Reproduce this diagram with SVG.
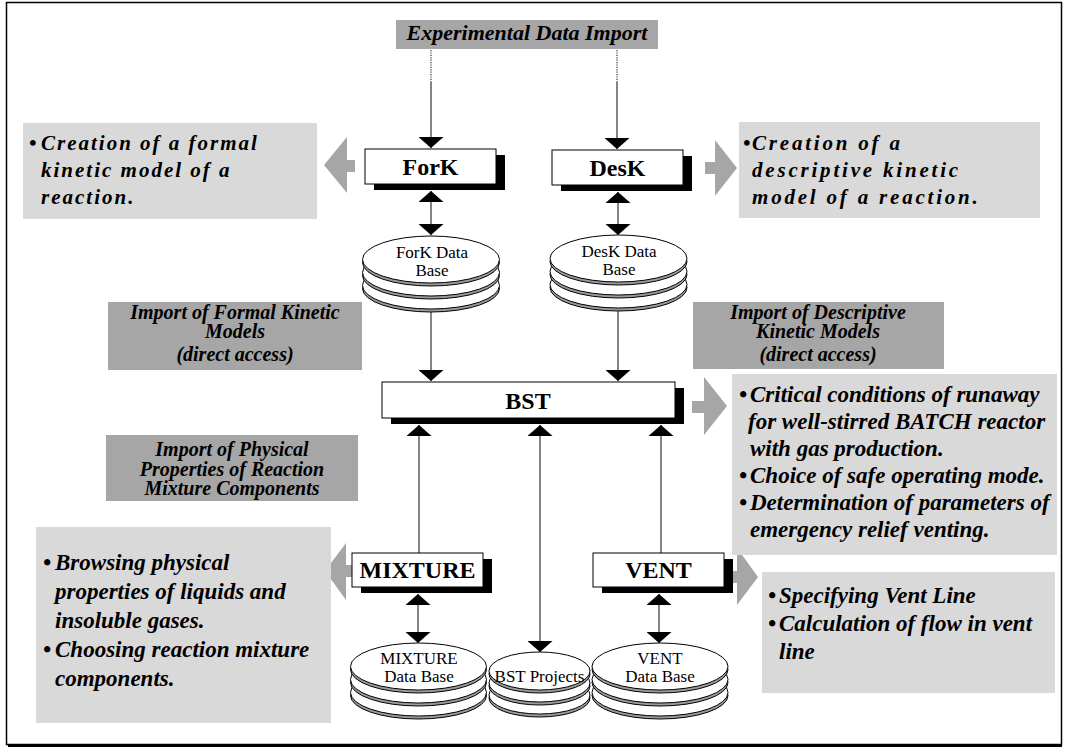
<svg xmlns="http://www.w3.org/2000/svg" width="1066" height="748" viewBox="0 0 1066 748">
<defs>
<style>
.frame{fill:none;stroke:#000;stroke-width:1.5}
.lt{fill:#d9d9d9}
.dk{fill:#a6a6a6}
.ga{fill:#a6a6a6}
.box{fill:#fff;stroke:#000;stroke-width:1}
.sh{fill:#000}
.rim{fill:#9a9a9a;stroke:#000;stroke-width:1}
.top{fill:#fff;stroke:#000;stroke-width:1}
.con{stroke:#333;stroke-width:1.2;fill:none}
.dot{stroke:#333;stroke-width:1.2;stroke-dasharray:1.2 1.2;fill:none}
text{font-family:"Liberation Serif","Times New Roman",serif;fill:#000}
.bi{font-weight:bold;font-style:italic}
.t21{font-size:21px}
.t23{font-size:23px}
.imp{font-size:20px;text-anchor:middle}
.lbl{font-weight:bold;font-size:24px;text-anchor:middle}
.db{font-size:17px;text-anchor:middle}
</style>
<marker id="ah" viewBox="0 0 11 25" refX="11" refY="12.5" markerWidth="11" markerHeight="25" markerUnits="userSpaceOnUse" orient="auto-start-reverse">
<path d="M0,0 L11,12.5 L0,25 Z" fill="#000"/>
</marker>
</defs>
<rect width="1066" height="748" fill="#fff"/>
<rect class="frame" x="6.5" y="2.5" width="1055" height="742"/>
<line x1="8" y1="746" x2="1062" y2="746" stroke="#000" stroke-width="2"/>

<!-- gray block arrows -->
<g id="block-arrows">
<polygon class="ga" points="324,165 347,137 347,160 355,160 355,172 347,172 347,193"/>
<polygon class="ga" points="705,162 715,162 715,140 737,168 715,196 715,174 705,174"/>
<polygon class="ga" points="692,401 704,401 704,377 727,406 704,435 704,413 692,413"/>
<polygon class="ga" points="325,571 346,543 346,565 352,565 352,577 346,577 346,600"/>
<polygon class="ga" points="727,571 737,571 737,548 758,577 737,605 737,583 727,583"/>
</g>

<!-- Experimental Data Import -->
<g id="exp-import">
<rect class="dk" x="396" y="20" width="262" height="29"/>
<text class="bi" x="527" y="40" font-size="22" text-anchor="middle">Experimental Data Import</text>
</g>

<!-- text panels -->
<g id="fork-desc">
<rect class="lt" x="23" y="123" width="294" height="96"/>
<text class="bi t21" letter-spacing="2"><tspan x="29" y="150">•</tspan><tspan x="41" y="150">Creation of a formal</tspan><tspan x="41" y="177">kinetic model of a</tspan><tspan x="41" y="204">reaction.</tspan></text>
</g>
<g id="desk-desc">
<rect class="lt" x="739" y="122" width="301" height="96"/>
<text class="bi t21" letter-spacing="2.8"><tspan x="743" y="150">•</tspan><tspan x="752" y="150">Creation of a</tspan><tspan x="752" y="177">descriptive kinetic</tspan><tspan x="752" y="204">model of a reaction.</tspan></text>
</g>
<g id="import-formal">
<rect class="dk" x="108" y="302" width="254" height="68"/>
<text class="bi imp"><tspan x="235" y="319">Import of Formal Kinetic</tspan><tspan x="235" y="338">Models</tspan><tspan x="235" y="361">(direct access)</tspan></text>
</g>
<g id="import-desc">
<rect class="dk" x="693" y="302" width="251" height="67"/>
<text class="bi imp"><tspan x="818" y="319">Import of Descriptive</tspan><tspan x="818" y="338">Kinetic Models</tspan><tspan x="818" y="361">(direct access)</tspan></text>
</g>
<g id="import-phys">
<rect class="dk" x="106" y="435" width="252" height="66"/>
<text class="bi imp"><tspan x="232" y="456">Import of Physical</tspan><tspan x="232" y="476">Properties of Reaction</tspan><tspan x="232" y="495">Mixture Components</tspan></text>
</g>
<g id="bst-desc">
<rect class="lt" x="732" y="374" width="325" height="181"/>
<text class="bi t23"><tspan x="739" y="402">•</tspan><tspan x="750" y="402">Critical conditions of runaway</tspan><tspan x="748" y="429">for well-stirred BATCH reactor</tspan><tspan x="750" y="456">with gas production.</tspan><tspan x="739" y="483">•</tspan><tspan x="750" y="483">Choice of safe operating mode.</tspan><tspan x="739" y="510">•</tspan><tspan x="750" y="510">Determination of parameters of</tspan><tspan x="750" y="537">emergency relief venting.</tspan></text>
</g>
<g id="mixture-desc">
<rect class="lt" x="36" y="527" width="295" height="196"/>
<text class="bi t23"><tspan x="43" y="570">•</tspan><tspan x="55" y="570">Browsing physical</tspan><tspan x="55" y="599">properties of liquids and</tspan><tspan x="55" y="628">insoluble gases.</tspan><tspan x="43" y="657">•</tspan><tspan x="55" y="657">Choosing reaction mixture</tspan><tspan x="55" y="686">components.</tspan></text>
</g>
<g id="vent-desc">
<rect class="lt" x="762" y="572" width="293" height="121"/>
<text class="bi t23"><tspan x="768" y="603">•</tspan><tspan x="779" y="603">Specifying Vent Line</tspan><tspan x="768" y="631">•</tspan><tspan x="779" y="631">Calculation of flow in vent</tspan><tspan x="779" y="659">line</tspan></text>
</g>

<!-- connectors -->
<g id="connectors">
<line class="dot" x1="431" y1="50" x2="431" y2="82"/>
<line class="con" x1="431" y1="82" x2="431" y2="148" marker-end="url(#ah)"/>
<line class="dot" x1="617" y1="50" x2="617" y2="82"/>
<line class="con" x1="617" y1="82" x2="617" y2="149" marker-end="url(#ah)"/>
<line class="con" x1="431" y1="191" x2="431" y2="235" marker-start="url(#ah)" marker-end="url(#ah)"/>
<line class="con" x1="618" y1="192" x2="618" y2="235" marker-start="url(#ah)" marker-end="url(#ah)"/>
<line class="con" x1="431" y1="312" x2="431" y2="381" marker-end="url(#ah)"/>
<line class="con" x1="618" y1="311" x2="618" y2="381" marker-end="url(#ah)"/>
<line class="con" x1="419" y1="553" x2="419" y2="425" marker-end="url(#ah)"/>
<line class="con" x1="540" y1="425" x2="540" y2="652" marker-start="url(#ah)" marker-end="url(#ah)"/>
<line class="con" x1="661" y1="553" x2="661" y2="425" marker-end="url(#ah)"/>
<line class="con" x1="418" y1="594" x2="418" y2="643" marker-start="url(#ah)" marker-end="url(#ah)"/>
<line class="con" x1="659" y1="594" x2="659" y2="643" marker-start="url(#ah)" marker-end="url(#ah)"/>
</g>

<!-- program nodes -->
<g id="fork">
<rect class="sh" x="374" y="155" width="131" height="35"/>
<rect class="box" x="365" y="149" width="131" height="35"/>
<text class="lbl" x="430.5" y="175">ForK</text>
</g>
<g id="desk">
<rect class="sh" x="561" y="156" width="131" height="35"/>
<rect class="box" x="552" y="150" width="131" height="35"/>
<text class="lbl" x="617.5" y="176">DesK</text>
</g>
<g id="bst">
<rect class="sh" x="391" y="388" width="293" height="36"/>
<rect class="box" x="382" y="382" width="293" height="36"/>
<text class="lbl" x="528" y="409">BST</text>
</g>
<g id="mixture">
<rect class="sh" x="361" y="559" width="131" height="34"/>
<rect class="box" x="352" y="553" width="131" height="34"/>
<text class="lbl" x="417.5" y="578" font-size="23">MIXTURE</text>
</g>
<g id="vent">
<rect class="sh" x="602" y="559" width="131" height="34"/>
<rect class="box" x="593" y="553" width="131" height="34"/>
<text class="lbl" x="658.5" y="578" font-size="23">VENT</text>
</g>

<!-- databases -->
<g id="fork-db">
<ellipse class="rim" cx="431" cy="288.5" rx="68.5" ry="23.5"/><ellipse class="top" cx="431" cy="285.5" rx="68.5" ry="23.5"/>
<ellipse class="rim" cx="431" cy="275.5" rx="68.5" ry="23.5"/><ellipse class="top" cx="431" cy="272.5" rx="68.5" ry="23.5"/>
<ellipse class="rim" cx="431" cy="262.5" rx="68.5" ry="23.5"/><ellipse class="top" cx="431" cy="259.5" rx="68.5" ry="23.5"/>
<text class="db"><tspan x="432" y="258">ForK Data</tspan><tspan x="432" y="276">Base</tspan></text>
</g>
<g id="desk-db">
<ellipse class="rim" cx="618.5" cy="287.5" rx="68.5" ry="23.5"/><ellipse class="top" cx="618.5" cy="284.5" rx="68.5" ry="23.5"/>
<ellipse class="rim" cx="618.5" cy="274.5" rx="68.5" ry="23.5"/><ellipse class="top" cx="618.5" cy="271.5" rx="68.5" ry="23.5"/>
<ellipse class="rim" cx="618.5" cy="261.5" rx="68.5" ry="23.5"/><ellipse class="top" cx="618.5" cy="258.5" rx="68.5" ry="23.5"/>
<text class="db"><tspan x="619" y="257">DesK Data</tspan><tspan x="619" y="275">Base</tspan></text>
</g>
<g id="mixture-db">
<ellipse class="rim" cx="418.5" cy="695.5" rx="68" ry="23.5"/><ellipse class="top" cx="418.5" cy="692.5" rx="68" ry="23.5"/>
<ellipse class="rim" cx="418.5" cy="682.5" rx="68" ry="23.5"/><ellipse class="top" cx="418.5" cy="679.5" rx="68" ry="23.5"/>
<ellipse class="rim" cx="418.5" cy="669.5" rx="68" ry="23.5"/><ellipse class="top" cx="418.5" cy="666.5" rx="68" ry="23.5"/>
<text class="db"><tspan x="419" y="664">MIXTURE</tspan><tspan x="419" y="682">Data Base</tspan></text>
</g>
<g id="bst-projects">
<ellipse class="rim" cx="539.5" cy="698" rx="50.5" ry="19"/><ellipse class="top" cx="539.5" cy="695" rx="50.5" ry="19"/>
<ellipse class="rim" cx="539.5" cy="686" rx="50.5" ry="19"/><ellipse class="top" cx="539.5" cy="683" rx="50.5" ry="19"/>
<ellipse class="rim" cx="539.5" cy="674" rx="50.5" ry="19"/><ellipse class="top" cx="539.5" cy="671" rx="50.5" ry="19"/>
<text class="db" x="539.5" y="682">BST Projects</text>
</g>
<g id="vent-db">
<ellipse class="rim" cx="660" cy="695.5" rx="68" ry="23.5"/><ellipse class="top" cx="660" cy="692.5" rx="68" ry="23.5"/>
<ellipse class="rim" cx="660" cy="682.5" rx="68" ry="23.5"/><ellipse class="top" cx="660" cy="679.5" rx="68" ry="23.5"/>
<ellipse class="rim" cx="660" cy="669.5" rx="68" ry="23.5"/><ellipse class="top" cx="660" cy="666.5" rx="68" ry="23.5"/>
<text class="db"><tspan x="660" y="664">VENT</tspan><tspan x="660" y="682">Data Base</tspan></text>
</g>
</svg>
